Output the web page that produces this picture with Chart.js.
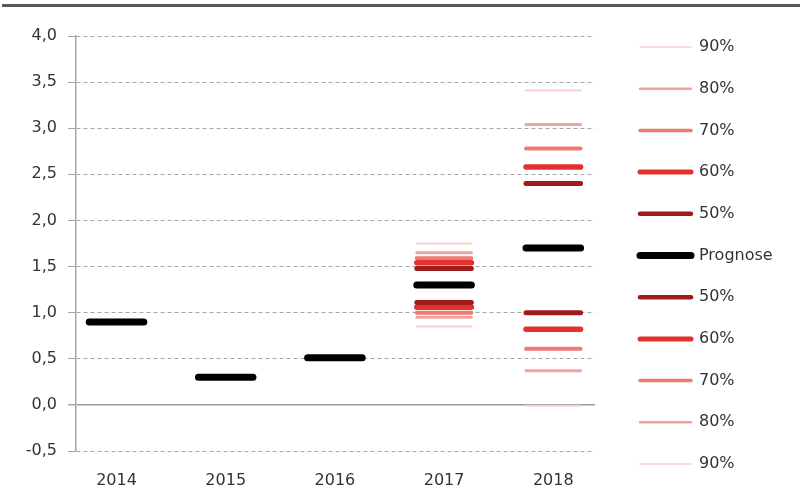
<!DOCTYPE html>
<html><head><meta charset="utf-8">
<script src="https://cdn.jsdelivr.net/npm/chart.js@4/dist/chart.umd.min.js"></script>
<style>
html,body{margin:0;padding:0;background:#fff;}
#wrap{position:relative;width:802px;height:503px;overflow:hidden;}
#bar{position:absolute;left:2px;top:4px;width:798px;height:3px;background:#595959;}
canvas{position:absolute;left:0;top:0;}
</style></head><body>
<div id="wrap"><canvas id="c" width="802" height="503"></canvas><div id="bar"></div></div>
<script>
// ---- data ----
const categories = ['2014', '2015', '2016', '2017', '2018'];
const prognose = [0.90, 0.30, 0.51, 1.30, 1.70];
const upper90  = [null, null, null, 1.75, 3.41];
const upper80  = [null, null, null, 1.65, 3.04];
const upper70  = [null, null, null, 1.59, 2.78];
const upper60  = [null, null, null, 1.54, 2.58];
const upper50  = [null, null, null, 1.48, 2.40];
const lower50  = [null, null, null, 1.11, 1.00];
const lower60  = [null, null, null, 1.06, 0.82];
const lower70  = [null, null, null, 1.00, 0.61];
const lower80  = [null, null, null, 0.95, 0.37];
const lower90  = [null, null, null, 0.85, -0.01];
const yTickMin = -0.5, yTickMax = 4.0, yTickStep = 0.5;

// ---- styles ----
const FONT = 'DejaVu Sans';
const TXT = '#333333';
const GRID = '#a6a6a6';
const HALF = 0.25; // half length of a dash, in category units
const S = {
  p:  {color: '#000000', w: 7,   lw: 7},
  50: {color: '#a11a1a', w: 5,   lw: 4.5},
  60: {color: '#e3322d', w: 5.5, lw: 5},
  70: {color: '#ec7a77', w: 4,   lw: 3.5},
  80: {color: '#f2a3a0', w: 3,   lw: 2.5},
  90: {color: '#f8cfce', w: 2,   lw: 1.5}
};

function segs(values) {
  const out = [];
  values.forEach((v, i) => {
    if (v === null) return;
    out.push({x: i - HALF, y: v}, {x: i + HALF, y: v}, {x: i, y: null});
  });
  return out;
}
function ds(label, values, st, order) {
  return {
    label, data: segs(values), borderColor: st.color, backgroundColor: st.color,
    borderWidth: st.w, borderCapStyle: 'round', pointRadius: 0, pointHoverRadius: 0,
    spanGaps: false, fill: false, tension: 0, order, legendWidth: st.lw
  };
}
const datasets = [
  ds('90%', upper90, S[90], 5),
  ds('80%', upper80, S[80], 4),
  ds('70%', upper70, S[70], 3),
  ds('60%', upper60, S[60], 2),
  ds('50%', upper50, S[50], 1),
  ds('Prognose', prognose, S.p, 0),
  ds('50%', lower50, S[50], 1),
  ds('60%', lower60, S[60], 2),
  ds('70%', lower70, S[70], 3),
  ds('80%', lower80, S[80], 4),
  ds('90%', lower90, S[90], 5)
];

// ---- layout helpers ----
const LEG_PAD = 25.7, LEG_BOX = 51, FS = 16;
const mctx = document.createElement('canvas').getContext('2d');
mctx.font = FS + 'px "' + FONT + '"';
const maxText = Math.max(...datasets.map(d => mctx.measureText(d.label).width));
const legendW = LEG_PAD + LEG_BOX + FS / 2 + maxText + 10;
const legendLeft = 640 - LEG_PAD;
const padRight = 802 - legendLeft - legendW;
const plotRight = 595, plotTop = 36, plotBottom = 451, plotLeft = 76;
const padTop = 47 - LEG_PAD - FS / 2;

const isZero = v => Math.abs(v) < 1e-9;

new Chart(document.getElementById('c'), {
  type: 'line',
  data: {datasets},
  options: {
    responsive: false, animation: false, events: [],
    layout: {padding: {top: padTop, right: padRight, bottom: 0, left: 0}},
    plugins: {
      tooltip: {enabled: false},
      legend: {
        position: 'right', align: 'start', maxWidth: 400,
        labels: {
          usePointStyle: true, pointStyle: 'line', pointStyleWidth: LEG_BOX,
          padding: LEG_PAD, color: TXT, font: {family: FONT, size: FS},
          generateLabels: chart => chart.data.datasets.map((d, i) => ({
            text: d.label, fillStyle: d.borderColor, strokeStyle: d.borderColor,
            lineWidth: d.legendWidth, lineCap: 'round', pointStyle: 'line',
            hidden: false, datasetIndex: i, fontColor: TXT
          }))
        }
      }
    },
    scales: {
      x: {
        type: 'linear', position: 'bottom',
        min: -0.371, max: 4.382,
        afterBuildTicks: s => { s.ticks = categories.map((c, i) => ({value: i})); },
        afterFit: s => { s.height = 503 - plotBottom; },
        ticks: {callback: v => categories[v], autoSkip: false, maxRotation: 0,
                padding: 20, color: TXT, font: {family: FONT, size: FS}},
        grid: {display: false, drawTicks: false},
        border: {display: false}
      },
      y: {
        type: 'linear', position: 'left',
        min: yTickMin, max: yTickMax,
        afterFit: s => { s.width = plotLeft; },
        ticks: {stepSize: yTickStep, padding: 11, color: TXT,
                font: {family: FONT, size: FS},
                callback: v => v.toFixed(1).replace('.', ',')},
        grid: {
          color: c => (c.tick && isZero(c.tick.value)) ? '#9a9a9a' : GRID,
          lineWidth: c => (c.tick && isZero(c.tick.value)) ? 1.5 : 1,
          tickLength: 8, tickColor: GRID, drawTicks: true
        },
        border: {
          display: true, color: GRID, width: 1.5,
          dash: c => (c.type === 'tick' && c.tick && !isZero(c.tick.value)) ? [4, 3] : []
        }
      },
      xTop: {
        type: 'linear', position: 'top', display: true,
        afterFit: s => { s.height = plotTop - padTop; },
        ticks: {display: false}, grid: {display: false, drawTicks: false}, border: {display: false}
      },
      yRight: {
        type: 'linear', position: 'right', display: true,
        afterFit: s => { s.width = legendLeft - plotRight; },
        ticks: {display: false}, grid: {display: false, drawTicks: false}, border: {display: false}
      }
    }
  }
});
</script>
</body></html>
